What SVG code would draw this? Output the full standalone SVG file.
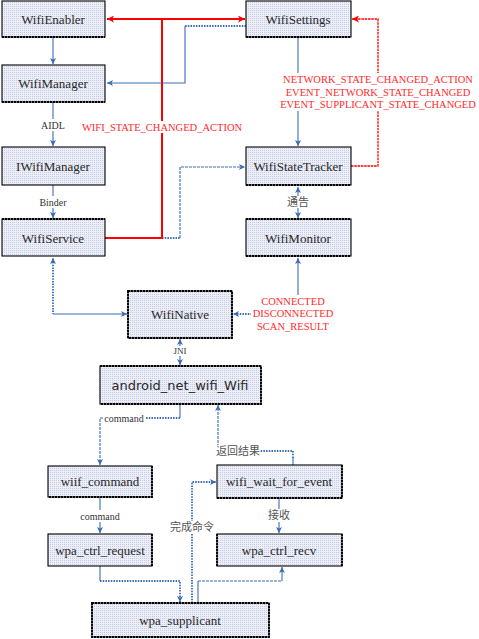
<svg xmlns="http://www.w3.org/2000/svg" width="479" height="639" viewBox="0 0 479 639">
<style>
.box{fill:url(#dots);stroke:#000;stroke-width:1.1}
.edge{fill:none;stroke:#000;stroke-width:1.8;stroke-dasharray:2,1}
.t{font-family:"Liberation Serif",serif;font-size:13px;fill:#2a2a2a;text-anchor:middle;dominant-baseline:central}
.ts{font-family:"DejaVu Sans",sans-serif;font-size:13px;fill:#2a2a2a;text-anchor:middle;dominant-baseline:central}
.c{fill:none;stroke:#3a6cb5;stroke-width:1.1}
.d{stroke-dasharray:3,1}
.p{stroke-width:1.8;stroke-dasharray:1.5,1.2}
.r{fill:none;stroke:#f00;stroke-width:2}
.r2{fill:none;stroke:#f00;stroke-width:1.3;stroke-dasharray:2.5,0.8}
.lb{font-family:"Liberation Serif",serif;font-size:10px;fill:#333;text-anchor:middle;dominant-baseline:central}
.cj{font-family:"Liberation Serif","Noto Sans CJK SC",serif;font-size:11px;fill:#555;text-anchor:middle;dominant-baseline:central}
.rl{font-family:"Liberation Serif",serif;font-size:10.5px;fill:#ff2a2a;text-anchor:middle;dominant-baseline:central}
.bg{fill:#fff}
</style>
<defs>
<pattern id="dots" width="2" height="2" patternUnits="userSpaceOnUse">
<rect width="2" height="2" fill="#eceef8"/>
<rect width="1" height="1" fill="#c6cae2"/>
</pattern>
<marker id="a" viewBox="0 0 6 6" refX="6" refY="3" markerWidth="6" markerHeight="6" markerUnits="userSpaceOnUse" orient="auto-start-reverse">
<path d="M0,0 L6,3 L0,6 L1.5,3 z" fill="#3a6cb5"/>
</marker>
<marker id="ar" viewBox="0 0 6 6" refX="6" refY="3" markerWidth="7" markerHeight="7" markerUnits="userSpaceOnUse" orient="auto-start-reverse">
<path d="M0,0 L6,3 L0,6 L1.5,3 z" fill="#f00"/>
</marker>
</defs>

<g id="connectors">
<path class="c" d="M53,37 V64" marker-end="url(#a)"/>
<path class="c" d="M53,102 V146" marker-end="url(#a)"/>
<path class="c" d="M53,185 V218" marker-end="url(#a)"/>
<path class="c" d="M53,258 V262" marker-start="url(#a)"/>
<path class="c p" d="M53,262 V314"/>
<path class="c" d="M53,314 H127" marker-end="url(#a)"/>
<path class="c p" d="M246,26 H185"/>
<path class="c" d="M185,26 V83 H107" marker-end="url(#a)"/>
<path class="c p" d="M162,238 H180"/>
<path class="c d" d="M180,238 V167 H245" marker-end="url(#a)"/>
<path class="c" d="M298,37 V146" marker-end="url(#a)"/>
<path class="c" d="M298,187 V218" marker-start="url(#a)" marker-end="url(#a)"/>
<path class="c" d="M298,258 V296"  marker-start="url(#a)"/>
<path class="c p" d="M252,314 H233" marker-end="url(#a)"/>
<path class="c" d="M180,339 V365" marker-start="url(#a)" marker-end="url(#a)"/>
<path class="c" d="M180,404 V418"/>
<path class="c p" d="M180,418 H103"/>
<path class="c d" d="M103,418 H100 V465" marker-end="url(#a)"/>
<path class="c" d="M100,497 V533" marker-end="url(#a)"/>
<path class="c" d="M100,566 V581"/>
<path class="c p" d="M100,581 H180 V602" marker-end="url(#a)"/>
<path class="c p" d="M192,603 V482 H216" marker-end="url(#a)"/>
<path class="c" d="M293,465 V458"/>
<path class="c p" d="M293,458 V451 H218"/>
<path class="c d" d="M218,451 V405" marker-end="url(#a)"/>
<path class="c" d="M279,498 V533" marker-end="url(#a)"/>
<path class="c" d="M198,603 V581"/>
<path class="c d" d="M198,581 H282"/>
<path class="c" d="M282,581 V567" marker-end="url(#a)"/>
<path class="r" d="M105,238 H162 V19"/>
<path class="r" d="M162,19 H107" marker-end="url(#ar)"/>
<path class="r" d="M162,19 H245" marker-end="url(#ar)"/>
<path class="r2" d="M351,166 H378 V19 H352" marker-end="url(#ar)"/>

<rect class="bg" x="38" y="119" width="30" height="12"/>
<text class="lb" x="53" y="125">AIDL</text>
<rect class="bg" x="36" y="196" width="34" height="12"/>
<text class="lb" x="53" y="202">Binder</text>
<rect class="bg" x="287" y="196" width="23" height="12"/>
<text class="cj" x="298" y="202">通告</text>
<rect class="bg" x="172" y="346" width="16" height="10"/>
<text class="lb" x="180" y="351" style="font-size:9px">JNI</text>
<rect class="bg" x="103" y="412" width="43" height="12"/>
<text class="lb" x="124" y="418">command</text>
<rect class="bg" x="79" y="510" width="43" height="12"/>
<text class="lb" x="100" y="516">command</text>
<rect class="bg" x="216" y="445" width="44" height="13"/>
<text class="cj" x="238" y="451">返回结果</text>
<rect class="bg" x="268" y="509" width="23" height="13"/>
<text class="cj" x="279" y="515">接收</text>
<rect class="bg" x="170" y="521" width="44" height="13"/>
<text class="cj" x="192" y="527">完成命令</text>
<rect class="bg" x="80" y="121" width="164" height="12"/>
<text class="rl" x="162" y="127">WIFI_STATE_CHANGED_ACTION</text>
<rect class="bg" x="280" y="73" width="197" height="38"/>
<text class="rl" x="378" y="79">NETWORK_STATE_CHANGED_ACTION</text>
<text class="rl" x="378" y="92">EVENT_NETWORK_STATE_CHANGED</text>
<text class="rl" x="378" y="104">EVENT_SUPPLICANT_STATE_CHANGED</text>
<rect class="bg" x="251" y="295" width="84" height="37"/>
<text class="rl" x="293" y="301">CONNECTED</text>
<text class="rl" x="293" y="313">DISCONNECTED</text>
<text class="rl" x="293" y="326">SCAN_RESULT</text>
</g>

<g id="WifiEnabler"><rect class="box" x="2" y="1" width="103" height="36"/><path class="edge" d="M2,37 H105"/><text class="t" x="53" y="19">WifiEnabler</text></g>
<g id="WifiManager"><rect class="box" x="2" y="65" width="103" height="37"/><path class="edge" d="M2,102 H105"/><text class="t" x="53" y="83">WifiManager</text></g>
<g id="IWifiManager"><rect class="box" x="2" y="147" width="103" height="38"/><text class="t" x="53" y="166">IWifiManager</text></g>
<g id="WifiService"><rect class="box" x="2" y="219" width="103" height="37"/><path class="edge" d="M2,219 H105"/><text class="t" x="53" y="238">WifiService</text></g>
<g id="WifiSettings"><rect class="box" x="246" y="1" width="105" height="36"/><path class="edge" d="M246,37 H351"/><text class="t" x="298" y="19">WifiSettings</text></g>
<g id="WifiStateTracker"><rect class="box" x="246" y="147" width="105" height="38"/><path class="edge" d="M246,185 H351"/><text class="t" x="298" y="166">WifiStateTracker</text></g>
<g id="WifiMonitor"><rect class="box" x="246" y="219" width="105" height="37"/><path class="edge" d="M246,219 H351 M246,256 H351"/><text class="t" x="298" y="238">WifiMonitor</text></g>
<g id="WifiNative"><rect class="box" x="128" y="291" width="104" height="47"/><path class="edge" d="M128,291 H232 V338 H128 Z"/><text class="t" x="180" y="314">WifiNative</text></g>
<g id="android_net_wifi_Wifi"><rect class="box" x="100" y="366" width="161" height="38"/><path class="edge" d="M100,366 H261 V404 H100"/><text class="ts" x="180" y="385">android_net_wifi_Wifi</text></g>
<g id="wiif_command"><rect class="box" x="48" y="466" width="104" height="31"/><path class="edge" d="M152,466 V497 H48"/><text class="t" x="100" y="481">wiif_command</text></g>
<g id="wpa_ctrl_request"><rect class="box" x="48" y="534" width="104" height="32"/><path class="edge" d="M152,534 V566"/><text class="t" x="100" y="550">wpa_ctrl_request</text></g>
<g id="wifi_wait_for_event"><rect class="box" x="217" y="465" width="125" height="33"/><path class="edge" d="M342,465 V498 H217"/><text class="t" x="279" y="481">wifi_wait_for_event</text></g>
<g id="wpa_ctrl_recv"><rect class="box" x="217" y="534" width="125" height="32"/><path class="edge" d="M217,534 V566 M342,534 V566"/><text class="t" x="279" y="550">wpa_ctrl_recv</text></g>
<g id="wpa_supplicant"><rect class="box" x="92" y="603" width="177" height="34"/><path class="edge" d="M92,603 H269 V637 H92 Z"/><text class="t" x="180" y="620">wpa_supplicant</text></g>
</svg>
